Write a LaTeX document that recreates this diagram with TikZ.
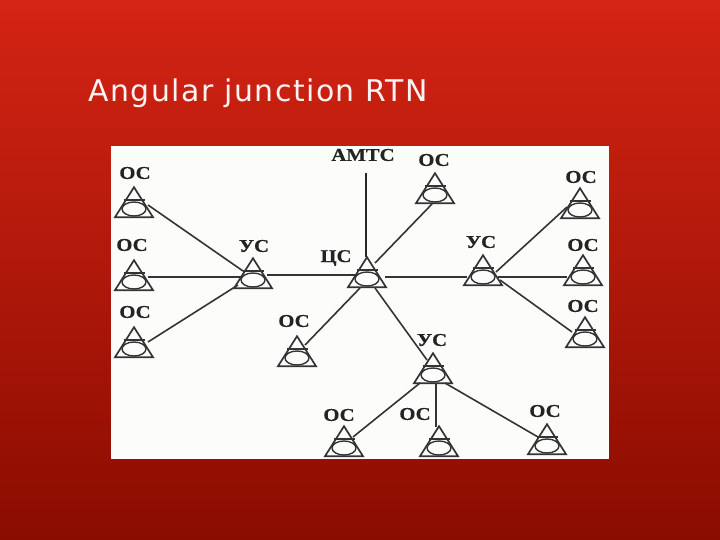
\documentclass[tikz,border=0pt]{standalone}
\usepackage{fontspec}
\usetikzlibrary{shapes.geometric}
\newfontfamily\titlefont[LetterSpace=5]{DejaVu Sans}
\newfontfamily\labfont[FakeStretch=1.15,FakeBold=0.6]{Liberation Serif Bold}
\definecolor{ink}{RGB}{52,52,52}
\definecolor{paper}{RGB}{252,252,250}
\tikzset{
  tri/.style={draw=ink,line width=1.7pt,isosceles triangle,isosceles triangle stretches,shape border rotate=90,
    minimum width=38pt,minimum height=30pt,inner sep=0pt,anchor=apex},
  disc/.style={draw=ink,line width=1.4pt,ellipse,minimum width=24pt,minimum height=14pt,inner sep=0pt},
  chord/.style={draw=ink,line width=1.4pt},
  wire/.style={draw=ink,line width=1.6pt},
  trunk/.style={draw=ink!75!black,line width=2.6pt},
  lab/.style={text=ink!70!black,inner sep=0pt,font=\labfont\fontsize{18}{18}\selectfont},
  heading/.style={text=white!95!red,inner sep=0pt,anchor=base west,font=\titlefont\fontsize{29.9}{32}\selectfont}
}
\newcommand{\stn}[3]{%
  \node[tri] (#1t) at (#2,#3-2) {};
  \node[disc] (#1) at (#2,#3+22) {};
  \draw[chord] (#2-10.5,#3+13) -- (#2+10.5,#3+13);
}
\begin{document}
\begin{tikzpicture}[x=1pt,y=-1pt]
\useasboundingbox (0,0) rectangle (720,540);
\shade[top color={rgb,255:red,212;green,36;blue,20},middle color={rgb,255:red,190;green,26;blue,12},bottom color={rgb,255:red,138;green,12;blue,0}] (0,0) rectangle (720,540);
\fill[paper] (111,146) rectangle (609,459);
\fill[green!3!white] (111,150) rectangle (609,158);
\node[heading] (title) at (88,102) {Angular junction RTN};

\stn{a}{134}{187}
\stn{b}{134}{260}
\stn{c}{134}{327}
\stn{usa}{253}{258}
\stn{cs}{367}{257}
\stn{osd}{297}{336}
\stn{ose}{435}{173}
\stn{usb}{483}{255}
\stn{ra}{580}{188}
\stn{rb}{583}{255}
\stn{rc}{585}{317}
\stn{usc}{433}{353}
\stn{ba}{344}{426}
\stn{bb}{439}{426}
\stn{bc}{547}{424}

\node[lab] (la) at (135,173) {ОС};
\node[lab] (lb) at (132,245) {ОС};
\node[lab] (lc) at (135,312) {ОС};
\node[lab] (lusa) at (254,246) {УС};
\node[lab] (lcs) at (336,258) {ЦС};
\node[lab] (amts) at (363,155) {АМТС};
\node[lab] (lose) at (434,160) {ОС};
\node[lab] (lra) at (581,177) {ОС};
\node[lab] (lusb) at (481,242) {УС};
\node[lab] (lrb) at (583,245) {ОС};
\node[lab] (lrc) at (583,306) {ОС};
\node[lab] (losd) at (294,321) {ОС};
\node[lab] (lusc) at (432,340) {УС};
\node[lab] (lba) at (339,415) {ОС};
\node[lab] (lbb) at (415,414) {ОС};
\node[lab] (lbc) at (545,411) {ОС};

\draw[wire] ([shift={(14,-4)}]a.center) -- ([shift={(-10,-9)}]usa.center);
\draw[wire] ([shift={(14,-5)}]b.center) -- ([shift={(-11,-3)}]usa.center);
\draw[wire] ([shift={(14,-7)}]c.center) -- ([shift={(-15,5)}]usa.center);
\draw[wire] ([shift={(14,-5)}]usa.center) -- ([shift={(-10,-4)}]cs.center);
\draw[trunk] ([shift={(3,18)}]amts.center) -- ([shift={(-1,-22)}]cs.center);
\draw[wire] ([shift={(-7,9)}]cs.center) -- ([shift={(8,-13)}]osd.center);
\draw[wire] ([shift={(8,-16)}]cs.center) -- ([shift={(-3,9)}]ose.center);
\draw[wire] ([shift={(18,-2)}]cs.center) -- ([shift={(-16,0)}]usb.center);
\draw[wire] ([shift={(13,-5)}]usb.center) -- ([shift={(-13,-3)}]ra.center);
\draw[wire] ([shift={(15,0)}]usb.center) -- ([shift={(-16,0)}]rb.center);
\draw[wire] ([shift={(17,3)}]usb.center) -- ([shift={(-13,-7)}]rc.center);
\draw[wire] ([shift={(8,9)}]cs.center) -- ([shift={(-6,-15)}]usc.center);
\draw[wire] ([shift={(-13,8)}]usc.center) -- ([shift={(9,-11)}]ba.center);
\draw[wire] ([shift={(3,8)}]usc.center) -- ([shift={(-3,-21)}]bb.center);
\draw[wire] ([shift={(12,8)}]usc.center) -- ([shift={(-9,-9)}]bc.center);
\end{tikzpicture}
\end{document}
